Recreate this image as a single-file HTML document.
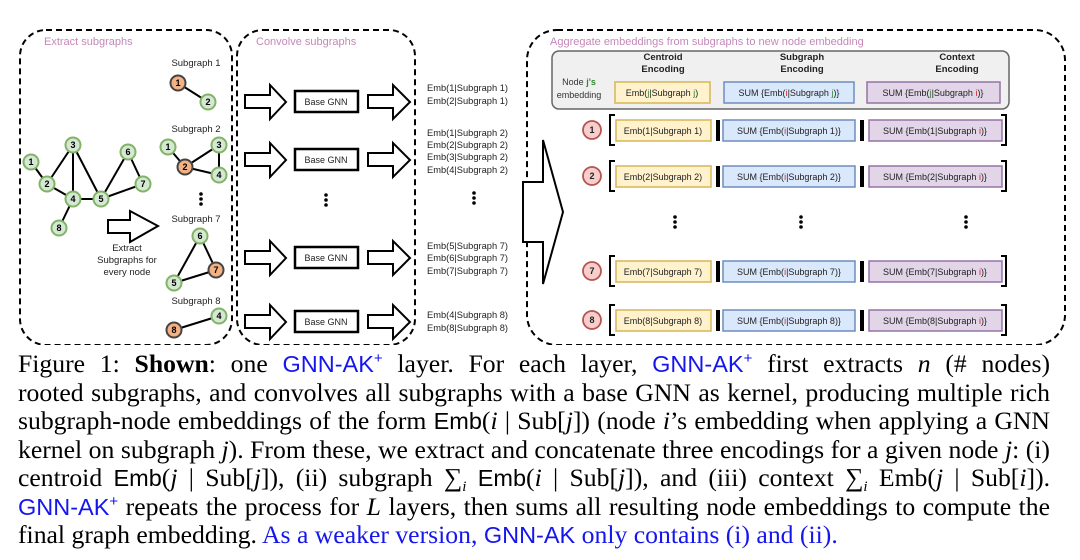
<!DOCTYPE html>
<html><head><meta charset="utf-8"><style>
body{margin:0;width:1080px;height:560px;background:#fff;overflow:hidden;position:relative;font-family:"Liberation Sans",sans-serif}
svg{position:absolute;left:0;top:0}
.cap{position:absolute;left:18px;width:1032px;font-family:"Liberation Serif",serif;font-size:25.7px;word-spacing:-1.5px;line-height:28px;color:#000;white-space:nowrap;text-align:justify;text-align-last:justify}
.cap.last{text-align-last:left;word-spacing:0}
.b{color:#1515ee}
.sf{font-family:"Liberation Sans",sans-serif;font-size:23.5px}
i{font-style:italic}
sup{font-size:15px;line-height:0;vertical-align:9px}
sub{font-size:15px;line-height:0;vertical-align:-5px}
</style></head><body>
<svg width="1080" height="345" viewBox="0 0 1080 345" font-family="Liberation Sans, sans-serif">
<g fill="none" stroke="#000" stroke-width="2" stroke-dasharray="6,4">
<rect x="20" y="30" width="212" height="315" rx="26"/>
<rect x="237" y="30" width="178" height="315" rx="26"/>
<rect x="527" y="30" width="538" height="315" rx="30"/>
</g>
<g font-size="11" fill="#c488b8">
<text x="44" y="45">Extract subgraphs</text>
<text x="256" y="45">Convolve subgraphs</text>
<text x="550" y="45">Aggregate embeddings from subgraphs to new node embedding</text>
</g>
<g stroke="#000" stroke-width="2">
<line x1="31" y1="162" x2="47" y2="184"/><line x1="47" y1="184" x2="73" y2="145"/><line x1="47" y1="184" x2="73" y2="199"/>
<line x1="73" y1="145" x2="73" y2="199"/><line x1="73" y1="145" x2="101" y2="199"/><line x1="73" y1="199" x2="101" y2="199"/>
<line x1="73" y1="199" x2="59" y2="228"/><line x1="101" y1="199" x2="128" y2="152"/><line x1="101" y1="199" x2="143" y2="184"/><line x1="128" y1="152" x2="143" y2="184"/>
<line x1="178" y1="83" x2="208" y2="102"/>
<line x1="168" y1="147" x2="185" y2="167"/><line x1="185" y1="167" x2="219" y2="145"/><line x1="185" y1="167" x2="219" y2="175"/><line x1="219" y1="145" x2="219" y2="175"/>
<line x1="200" y1="236" x2="216" y2="270"/><line x1="216" y1="270" x2="174" y2="283"/><line x1="174" y1="283" x2="200" y2="236"/>
<line x1="219" y1="316" x2="174" y2="330"/>
</g>
<g stroke="#82b366" stroke-width="2" fill="#d5e8d4">
<circle cx="31" cy="162" r="7.5"/><circle cx="47" cy="184" r="7.5"/><circle cx="73" cy="145" r="7.5"/><circle cx="73" cy="199" r="7.5"/>
<circle cx="101" cy="199" r="7.5"/><circle cx="128" cy="152" r="7.5"/><circle cx="143" cy="184" r="7.5"/><circle cx="59" cy="228" r="7.5"/>
<circle cx="208" cy="102" r="7.5"/><circle cx="168" cy="147" r="7.5"/><circle cx="219" cy="145" r="7.5"/><circle cx="219" cy="175" r="7.5"/>
<circle cx="200" cy="236" r="7.5"/><circle cx="174" cy="283" r="7.5"/><circle cx="219" cy="316" r="7.5"/>
</g>
<g stroke="#444" stroke-width="2" fill="#f4b183">
<circle cx="178" cy="83" r="7.5"/><circle cx="185" cy="167" r="7.5"/><circle cx="216" cy="270" r="7.5"/><circle cx="174" cy="330" r="7.5"/>
</g>
<g font-size="9" font-weight="bold" text-anchor="middle" fill="#000">
<text x="31" y="165">1</text><text x="47" y="187">2</text><text x="73" y="148">3</text><text x="73" y="202">4</text>
<text x="101" y="202">5</text><text x="128" y="155">6</text><text x="143" y="187">7</text><text x="59" y="231">8</text>
<text x="178" y="86">1</text><text x="208" y="105">2</text>
<text x="168" y="150">1</text><text x="185" y="170">2</text><text x="219" y="148">3</text><text x="219" y="178">4</text>
<text x="200" y="239">6</text><text x="216" y="273">7</text><text x="174" y="286">5</text>
<text x="219" y="319">4</text><text x="174" y="333">8</text>
</g>
<g font-size="9.5" text-anchor="middle" fill="#222">
<text x="196" y="66">Subgraph 1</text><text x="196" y="132">Subgraph 2</text>
<text x="196" y="222">Subgraph 7</text><text x="196" y="304">Subgraph 8</text>
<text x="127" y="251">Extract</text><text x="127" y="263">Subgraphs for</text><text x="127" y="275">every node</text>
</g>
<g fill="#000">
<circle cx="201" cy="194" r="1.8"/><circle cx="201" cy="199" r="1.8"/><circle cx="201" cy="204" r="1.8"/>
<circle cx="326" cy="195" r="1.8"/><circle cx="326" cy="200" r="1.8"/><circle cx="326" cy="205" r="1.8"/>
<circle cx="474" cy="193" r="1.8"/><circle cx="474" cy="198" r="1.8"/><circle cx="474" cy="203" r="1.8"/>
<circle cx="675" cy="217" r="1.8"/><circle cx="675" cy="222" r="1.8"/><circle cx="675" cy="227" r="1.8"/>
<circle cx="801" cy="217" r="1.8"/><circle cx="801" cy="222" r="1.8"/><circle cx="801" cy="227" r="1.8"/>
<circle cx="966" cy="217" r="1.8"/><circle cx="966" cy="222" r="1.8"/><circle cx="966" cy="227" r="1.8"/>
</g>
<g fill="#fff" stroke="#000" stroke-width="2">
<polygon points="108,220 130,220 130,211 158,226 130,242 130,233 108,233"/>
<g id="ar"><polygon points="245,95 270,95 270,85 286,102 270,119 270,108 245,108"/>
<polygon points="368,95 393,95 393,85 410,102 393,119 393,108 368,108"/>
<rect x="295" y="91" width="63" height="21" stroke-width="2.5"/></g>
<use href="#ar" y="58"/><use href="#ar" y="156"/><use href="#ar" y="220"/>
<polygon points="523,182 543,182 543,140 563,212 543,284 543,242 523,242"/>
</g>
<g font-size="9" text-anchor="middle" fill="#222">
<text x="326" y="105">Base GNN</text><text x="326" y="163">Base GNN</text><text x="326" y="261">Base GNN</text><text x="326" y="325">Base GNN</text>
</g>
<g font-size="9.3" fill="#222">
<text x="427" y="91">Emb(1|Subgraph 1)</text><text x="427" y="104">Emb(2|Subgraph 1)</text>
<text x="427" y="136">Emb(1|Subgraph 2)</text><text x="427" y="148">Emb(2|Subgraph 2)</text><text x="427" y="160">Emb(3|Subgraph 2)</text><text x="427" y="173">Emb(4|Subgraph 2)</text>
<text x="427" y="249">Emb(5|Subgraph 7)</text><text x="427" y="261">Emb(6|Subgraph 7)</text><text x="427" y="274">Emb(7|Subgraph 7)</text>
<text x="427" y="318">Emb(4|Subgraph 8)</text><text x="427" y="331">Emb(8|Subgraph 8)</text>
</g>
<rect x="552" y="51" width="457" height="58" rx="7" fill="#f0f0f0" stroke="#666" stroke-width="1.5"/>
<g font-size="9.5" font-weight="bold" text-anchor="middle" fill="#222">
<text x="663" y="60">Centroid</text><text x="663" y="72">Encoding</text>
<text x="802" y="60">Subgraph</text><text x="802" y="72">Encoding</text>
<text x="957" y="60">Context</text><text x="957" y="72">Encoding</text>
</g>
<g font-size="9" text-anchor="middle" fill="#333">
<text x="579" y="85">Node <tspan fill="#2e8b2e" font-weight="bold">j's</tspan></text><text x="579" y="98">embedding</text>
</g>
<rect x="615" y="82" width="95" height="21" fill="#fff2cc" stroke="#d6b656" stroke-width="1.5"/>
<rect x="724" y="82" width="130" height="21" fill="#dae8fc" stroke="#6c8ebf" stroke-width="1.5"/>
<rect x="867" y="82" width="133" height="21" fill="#e1d5e7" stroke="#9673a6" stroke-width="1.5"/>
<g font-size="9" text-anchor="middle" fill="#222">
<text x="662" y="96">Emb(<tspan fill="#2e8b2e">j</tspan>|Subgraph <tspan fill="#2e8b2e">j</tspan>)</text>
<text x="789" y="96">SUM {Emb(<tspan fill="#e02020">i</tspan>|Subgraph <tspan fill="#2e8b2e">j</tspan>)}</text>
<text x="933" y="96">SUM {Emb(<tspan fill="#2e8b2e">j</tspan>|Subgraph <tspan fill="#e02020">i</tspan>)}</text>
</g>
<defs>
<g id="row">
<path d="M615,-15 H610 V15 H615" fill="none" stroke="#000" stroke-width="2"/>
<path d="M1001,-15 H1006 V15 H1001" fill="none" stroke="#000" stroke-width="2"/>
<rect x="616" y="-10" width="95" height="21" fill="#fff2cc" stroke="#d6b656" stroke-width="1.5"/>
<rect x="716" y="-10" width="4" height="21" fill="#000"/>
<rect x="723" y="-10" width="132" height="21" fill="#dae8fc" stroke="#6c8ebf" stroke-width="1.5"/>
<rect x="860" y="-10" width="4" height="21" fill="#000"/>
<rect x="869" y="-10" width="133" height="21" fill="#e1d5e7" stroke="#9673a6" stroke-width="1.5"/>
<circle cx="592" cy="0" r="9" fill="#f8cecc" stroke="#b85450" stroke-width="1.8"/>
</g>
</defs>
<use href="#row" y="130"/><use href="#row" y="176"/><use href="#row" y="271"/><use href="#row" y="320"/>
<g font-size="9" text-anchor="middle" fill="#222">
<g font-weight="bold"><text x="592" y="133">1</text><text x="592" y="179">2</text><text x="592" y="274">7</text><text x="592" y="323">8</text></g>
<text x="663" y="134">Emb(1|Subgraph 1)</text><text x="789" y="134">SUM {Emb(<tspan fill="#e02020">i</tspan>|Subgraph 1)}</text><text x="935" y="134">SUM {Emb(1|Subgraph <tspan fill="#e02020">i</tspan>)}</text>
<text x="663" y="180">Emb(2|Subgraph 2)</text><text x="789" y="180">SUM {Emb(<tspan fill="#e02020">i</tspan>|Subgraph 2)}</text><text x="935" y="180">SUM {Emb(2|Subgraph <tspan fill="#e02020">i</tspan>)}</text>
<text x="663" y="275">Emb(7|Subgraph 7)</text><text x="789" y="275">SUM {Emb(<tspan fill="#e02020">i</tspan>|Subgraph 7)}</text><text x="935" y="275">SUM {Emb(7|Subgraph <tspan fill="#e02020">i</tspan>)}</text>
<text x="663" y="324">Emb(8|Subgraph 8)</text><text x="789" y="324">SUM {Emb(<tspan fill="#e02020">i</tspan>|Subgraph 8)}</text><text x="935" y="324">SUM {Emb(8|Subgraph <tspan fill="#e02020">i</tspan>)}</text>
</g>
</svg>
<div class="cap" style="top:350px">Figure 1: <b>Shown</b>: one <span class="b sf">GNN-AK<sup>+</sup></span> layer. For each layer, <span class="b sf">GNN-AK<sup>+</sup></span> first extracts <i>n</i> (# nodes)</div>
<div class="cap" style="top:379px">rooted subgraphs, and convolves all subgraphs with a base GNN as kernel, producing multiple rich</div>
<div class="cap" style="top:407px">subgraph-node embeddings of the form <span class="sf">Emb</span>(<i>i</i> | Sub[<i>j</i>]) (node <i>i</i>’s embedding when applying a GNN</div>
<div class="cap" style="top:436px">kernel on subgraph <i>j</i>). From these, we extract and concatenate three encodings for a given node <i>j</i>: (i)</div>
<div class="cap" style="top:464px">centroid <span class="sf">Emb</span>(<i>j</i> | Sub[<i>j</i>]), (ii) subgraph ∑<sub><i>i</i></sub> <span class="sf">Emb</span>(<i>i</i> | Sub[<i>j</i>]), and (iii) context ∑<sub><i>i</i></sub> Emb(<i>j</i> | Sub[<i>i</i>]).</div>
<div class="cap" style="top:493px"><span class="b sf">GNN-AK<sup>+</sup></span> repeats the process for <i>L</i> layers, then sums all resulting node embeddings to compute the</div>
<div class="cap last" style="top:521px">final graph embedding. <span class="b">As a weaker version, <span class="sf">GNN-AK</span> only contains (i) and (ii).</span></div>
</body></html>
